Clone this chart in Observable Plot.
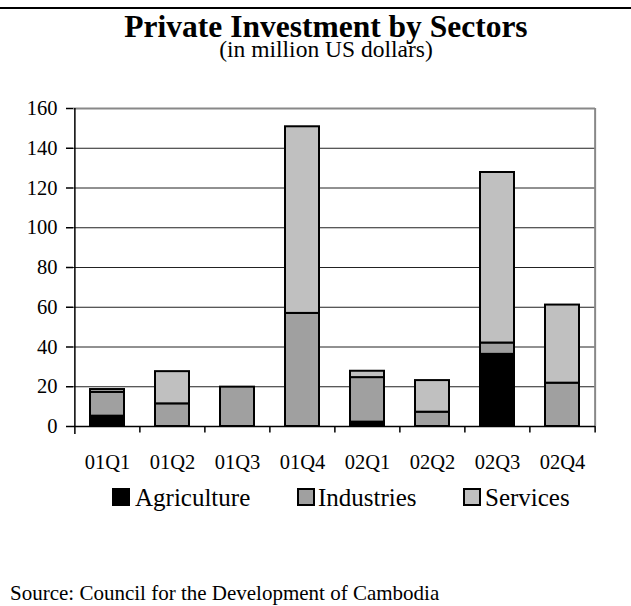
<!DOCTYPE html>
<html><head><meta charset="utf-8">
<script src="https://cdn.jsdelivr.net/npm/d3@7"></script>
<script src="https://cdn.jsdelivr.net/npm/@observablehq/plot@0.6"></script>
<style>
body{margin:0;background:#fff;font-family:"Liberation Serif","Times New Roman",serif;color:#000;}
#wrap{position:relative;width:631px;height:606px;overflow:hidden;}
.abs{position:absolute;white-space:nowrap;line-height:1;font-family:"Liberation Serif","Times New Roman",serif;}
.tight{line-height:0.8;}
.sw{position:absolute;width:18px;height:18px;box-sizing:border-box;border:2px solid #000;}
#chart{position:absolute;left:0;top:0;}
</style></head><body>
<div id="wrap">
  <div id="chart"></div>
  <div class="abs" style="left:0;top:7px;width:631px;height:2px;background:#000"></div>
  <div class="abs tight" style="left:0;width:652px;text-align:center;top:13.5px;font-size:31.5px;font-weight:bold">Private Investment by Sectors</div>
  <div class="abs tight" style="left:0;width:652px;text-align:center;top:39.7px;font-size:23.5px">(in million US dollars)</div>
  <div id="legend"></div>
  <div class="abs" style="left:10px;top:583.4px;font-size:21px">Source: Council for the Development of Cambodia</div>
</div>
<script>
const quarters = ["01Q1","01Q2","01Q3","01Q4","02Q1","02Q2","02Q3","02Q4"];
const sectors = ["Agriculture","Industries","Services"];
const sectorColors = ["#000000","#a0a0a0","#c0c0c0"];
const agriculture = [5.2, 0, 0, 0, 2.2, 0, 36.3, 0];
const industries  = [12.0, 11.4, 19.8, 56.9, 22.4, 7.2, 5.7, 21.8];
const services    = [1.4, 16.2, 0, 93.9, 3.2, 15.9, 85.8, 39.3];
const yTicks = [0,20,40,60,80,100,120,140,160];
const gridTicks = [20,40,60,80,100,120,140];

const series = {Agriculture: agriculture, Industries: industries, Services: services};
const rows = quarters.flatMap((q,i)=>sectors.map(s=>({quarter:q, sector:s, value:series[s][i]})));

const W=631, H=480, mL=73, mR=36, mT=108, mB=54;
const step=(W-mL-mR)/quarters.length;

const chart = Plot.plot({
  width:W, height:H, marginLeft:mL, marginRight:mR, marginTop:mT, marginBottom:mB,
  style:{fontFamily:"Liberation Serif, Times New Roman, serif", fontSize:"20px", color:"#000", background:"transparent", overflow:"visible"},
  x:{domain:quarters, paddingInner:0.48, paddingOuter:0.24, label:null},
  y:{domain:[0,160], label:null},
  color:{domain:sectors, range:sectorColors},
  marks:[
    Plot.ruleY(gridTicks, {stroke:"#222", strokeWidth:1}),
    Plot.ruleY([160], {stroke:"#888", strokeWidth:2}),
    Plot.ruleX([quarters[quarters.length-1]], {dx:step/2, y1:0, y2:160, stroke:"#888", strokeWidth:2}),
    Plot.barY(rows, {x:"quarter", y:"value", fill:"sector", stroke:"#000", strokeWidth:2, order:sectors}),
    Plot.ruleY([0], {stroke:"#000", strokeWidth:1.5}),
    Plot.ruleX([quarters[0]], {dx:-step/2, y1:-4, y2:160, stroke:"#000", strokeWidth:1.5}),
    Plot.ruleX(quarters.slice(1), {dx:-step/2, y1:-3.3, y2:0, stroke:"#000", strokeWidth:1.5}),
    Plot.ruleX([quarters[quarters.length-1]], {dx:step/2, y1:-3.3, y2:0, stroke:"#000", strokeWidth:1.5}),
    Plot.axisY({ticks:yTicks, tickSize:7, tickPadding:9, fontSize:20.5, label:null, tickFormat:d=>String(d), strokeWidth:1.5}),
    Plot.axisX({tickSize:0, tickPadding:28, fontSize:20.5, label:null})
  ]
});
document.getElementById("chart").appendChild(chart);

// legend
const legendPos = [{sw:112, tx:135},{sw:297, tx:318},{sw:463, tx:485}];
const legend = document.getElementById("legend");
sectors.forEach((s,i)=>{
  const sw=document.createElement("div");
  sw.className="sw"; sw.style.left=legendPos[i].sw+"px"; sw.style.top="488px"; sw.style.background=sectorColors[i];
  legend.appendChild(sw);
  const t=document.createElement("div");
  t.className="abs"; t.style.left=legendPos[i].tx+"px"; t.style.top="484.8px"; t.style.fontSize="25px"; t.textContent=s;
  legend.appendChild(t);
});
</script>
</body></html>
